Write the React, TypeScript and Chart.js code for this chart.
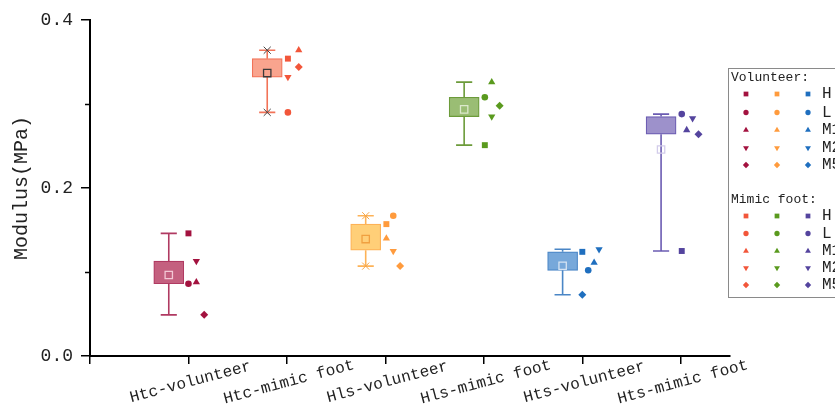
import React, { useEffect, useRef } from 'react';
import { Chart, registerables } from 'chart.js';
import { drawPoint } from 'chart.js/helpers';

Chart.register(...registerables);

const categories = ['Htc-volunteer', 'Htc-mimic foot', 'Hls-volunteer', 'Hls-mimic foot', 'Hts-volunteer', 'Hts-mimic foot'];
const sampleNames = ['H', 'L', 'M1', 'M2', 'M5'];

// values per sample, order: H, L, M1, M2, M5
const htcVolunteer = [0.146, 0.086, 0.088, 0.113, 0.049];
const htcMimic = [0.354, 0.290, 0.364, 0.332, 0.344];
const hlsVolunteer = [0.157, 0.167, 0.140, 0.125, 0.107];
const hlsMimic = [0.251, 0.308, 0.326, 0.285, 0.298];
const htsVolunteer = [0.124, 0.102, 0.111, 0.127, 0.073];
const htsMimic = [0.125, 0.288, 0.269, 0.283, 0.264];

// box edges
const boxQ1 = [0.086, 0.332, 0.126, 0.285, 0.102, 0.264];
const boxQ3 = [0.113, 0.354, 0.157, 0.308, 0.124, 0.285];

// horizontal spread of data points (category units)
const jitter = [
  [0, 0, 0.08, 0.08, 0.16],
  [0.01, 0.01, 0.12, 0.01, 0.12],
  [0.01, 0.08, 0.01, 0.08, 0.15],
  [0.01, 0.01, 0.08, 0.08, 0.16],
  [0, 0.06, 0.12, 0.17, 0],
  [0.01, 0.01, 0.06, 0.12, 0.18],
];

const yTicks = [0, 0.1, 0.2, 0.3, 0.4];

const groups = [htcVolunteer, htcMimic, hlsVolunteer, hlsMimic, htsVolunteer, htsMimic];

const pointColors = ['#A3123F', '#F2563A', '#FF9B3D', '#5A9A1E', '#1F6FBF', '#54449E'];
const boxFill = ['#C4607F', '#F9A48E', '#FFCF78', '#9ABD74', '#77A8DA', '#9D91CB'];
const boxLine = ['#B03A62', '#F27358', '#FDB257', '#6C9B3A', '#4A86C6', '#6B5CB2'];
const meanColor = ['#F3C8D5', '#3A3A3A', '#F0A040', '#DCE9CC', '#D6E4F3', '#D2CCEA'];
const crossColor = [null, '#444444', '#F5A548', null, null, null];

const styles = ['rect', 'circle', 'triangle', 'triangle', 'rectRot'];
const rotations = [0, 0, 0, 180, 0];
const radii = [4.2, 3.3, 4.2, 4.2, 4.0];

const BOX_SHIFT = -0.2;
const CAP = 0.082;
const MONO = '"Liberation Mono", "DejaVu Sans Mono", monospace';

export default function App() {
  const ref = useRef<HTMLCanvasElement | null>(null);

  useEffect(() => {
    const canvas = ref.current;
    if (!canvas) return;

    const datasets: any[] = [];

    // boxes
    datasets.push({
      type: 'bar',
      data: groups.map((_, i) => ({ x: i + 1 + BOX_SHIFT, y: [boxQ1[i], boxQ3[i]] })),
      backgroundColor: boxFill,
      borderColor: boxLine,
      borderWidth: 1.2,
      borderSkipped: false,
      barThickness: 30,
      grouped: false,
      order: 5,
    });

    // whiskers
    groups.forEach((vals, i) => {
      const cx = i + 1 + BOX_SHIFT;
      const mn = Math.min(...vals);
      const mx = Math.max(...vals);
      datasets.push({
        type: 'scatter',
        showLine: true,
        spanGaps: false,
        pointRadius: 0,
        borderColor: boxLine[i],
        borderWidth: 1.6,
        data: [
          { x: cx, y: mn }, { x: cx, y: boxQ1[i] }, { x: cx, y: null },
          { x: cx, y: boxQ3[i] }, { x: cx, y: mx }, { x: cx, y: null },
          { x: cx - CAP, y: mn }, { x: cx + CAP, y: mn }, { x: cx, y: null },
          { x: cx - CAP, y: mx }, { x: cx + CAP, y: mx },
        ],
        order: 6,
      });
      if (crossColor[i]) {
        datasets.push({
          type: 'scatter',
          pointStyle: 'crossRot',
          pointRadius: 5,
          pointBorderColor: crossColor[i],
          pointBorderWidth: 1,
          data: [{ x: cx, y: mn }, { x: cx, y: mx }],
          order: 2,
        });
      }
    });

    // means
    datasets.push({
      type: 'scatter',
      pointStyle: 'rect',
      pointRadius: 5.2,
      pointBackgroundColor: 'rgba(0,0,0,0)',
      pointBorderColor: meanColor,
      pointBorderWidth: 1.3,
      data: groups.map((vals, i) => ({ x: i + 1 + BOX_SHIFT, y: vals.reduce((a, b) => a + b, 0) / vals.length })),
      order: 1,
    });

    // raw data points
    groups.forEach((vals, i) => {
      datasets.push({
        type: 'scatter',
        pointStyle: styles,
        pointRotation: rotations,
        pointRadius: radii,
        pointBackgroundColor: pointColors[i],
        pointBorderColor: pointColors[i],
        pointBorderWidth: 0,
        data: vals.map((v, k) => ({ x: i + 1 + jitter[i][k], y: v })),
        order: 0,
      });
    });

    const decorations = {
      id: 'decorations',
      afterDraw(chart: any) {
        const ctx = chart.ctx;
        const xs = chart.scales.x;
        const ys = chart.scales.y;
        const area = chart.chartArea;
        ctx.save();
        // minor y ticks
        ctx.strokeStyle = '#000';
        ctx.lineWidth = 1.5;
        yTicks.forEach((t) => {
          if (Math.round(t * 10) % 2 === 1) {
            const py = Math.round(ys.getPixelForValue(t)) + 0.5;
            ctx.beginPath();
            ctx.moveTo(area.left - 5, py);
            ctx.lineTo(area.left, py);
            ctx.stroke();
          }
        });
        // x category labels
        ctx.fillStyle = '#222';
        ctx.font = `16px ${MONO}`;
        ctx.textAlign = 'center';
        ctx.textBaseline = 'middle';
        categories.forEach((c, i) => {
          const px = xs.getPixelForValue(i + 1) + 2;
          ctx.save();
          ctx.translate(px, area.bottom + 26);
          ctx.rotate(-15 * Math.PI / 180);
          ctx.fillText(c, 0, 0);
          ctx.restore();
        });
        // legend
        const lx = 728.5;
        const ly = 68.5;
        ctx.strokeStyle = '#8a8a8a';
        ctx.lineWidth = 1;
        ctx.strokeRect(lx, ly, 140, 229);
        ctx.fillStyle = '#222';
        ctx.textAlign = 'left';
        ctx.font = `13px ${MONO}`;
        ctx.fillText('Volunteer:', 731, 78);
        ctx.fillText('Mimic foot:', 731, 200);
        const volCols = [0, 2, 4];
        const mimCols = [1, 3, 5];
        const colX = [746, 777, 808];
        const rowsVol = [94, 112.5, 130, 148, 165];
        const rowsMim = [216, 233.5, 251, 268, 285];
        const drawRows = (cols: number[], rows: number[]) => {
          rows.forEach((ry, k) => {
            cols.forEach((g, ci) => {
              ctx.fillStyle = pointColors[g];
              ctx.strokeStyle = pointColors[g];
              drawPoint(ctx, { pointStyle: styles[k], rotation: rotations[k], radius: radii[k] * 0.8, borderWidth: 0 }, colX[ci], ry);
            });
            ctx.fillStyle = '#222';
            ctx.font = `16px ${MONO}`;
            ctx.fillText(sampleNames[k], 822, ry);
          });
        };
        drawRows(volCols, rowsVol);
        drawRows(mimCols, rowsMim);
        ctx.restore();
      },
    };

    const chart = new Chart(canvas, {
      type: 'scatter',
      data: { datasets },
      options: {
        responsive: false,
        animation: false,
        devicePixelRatio: 1,
        layout: { padding: { top: 20, right: 105, bottom: 0, left: 0 } },
        plugins: { legend: { display: false }, tooltip: { enabled: false } },
        scales: {
          x: {
            type: 'linear',
            min: 0,
            max: 6.5,
            offset: false,
            afterFit: (s: any) => { s.height = 53; },
            ticks: { stepSize: 1, includeBounds: false, callback: () => '', display: true },
            grid: { drawOnChartArea: false, offset: false, tickLength: 8, color: '#000', lineWidth: 1.5 },
            border: { color: '#000', width: 2 },
          },
          y: {
            type: 'linear',
            min: 0,
            max: 0.4,
            afterFit: (s: any) => { s.width = 90; },
            afterBuildTicks: (s: any) => { s.ticks = yTicks.map((v) => ({ value: v })); },
            ticks: {
              padding: 8,
              color: '#222',
              font: { family: MONO, size: 18 },
              callback: (v: any) => (Math.round(Number(v) * 10) % 2 === 0 ? Number(v).toFixed(1) : ''),
            },
            grid: {
              drawOnChartArea: false,
              tickLength: 9,
              lineWidth: 1.5,
              tickColor: (c: any) => (c.tick && Math.round(c.tick.value * 10) % 2 === 1 ? 'rgba(0,0,0,0)' : '#000'),
            },
            border: { color: '#000', width: 2 },
            title: {
              display: true,
              text: 'Modulus(MPa)',
              color: '#222',
              font: { family: MONO, size: 20 },
              padding: { top: 10, bottom: 0 },
            },
          },
        },
      },
      plugins: [decorations],
    } as any);

    return () => chart.destroy();
  }, []);

  return (
    <canvas
      ref={ref}
      width={835}
      height={409}
      style={{ position: 'fixed', left: 0, top: 0, width: 835, height: 409, background: '#fff' }}
    />
  );
}
